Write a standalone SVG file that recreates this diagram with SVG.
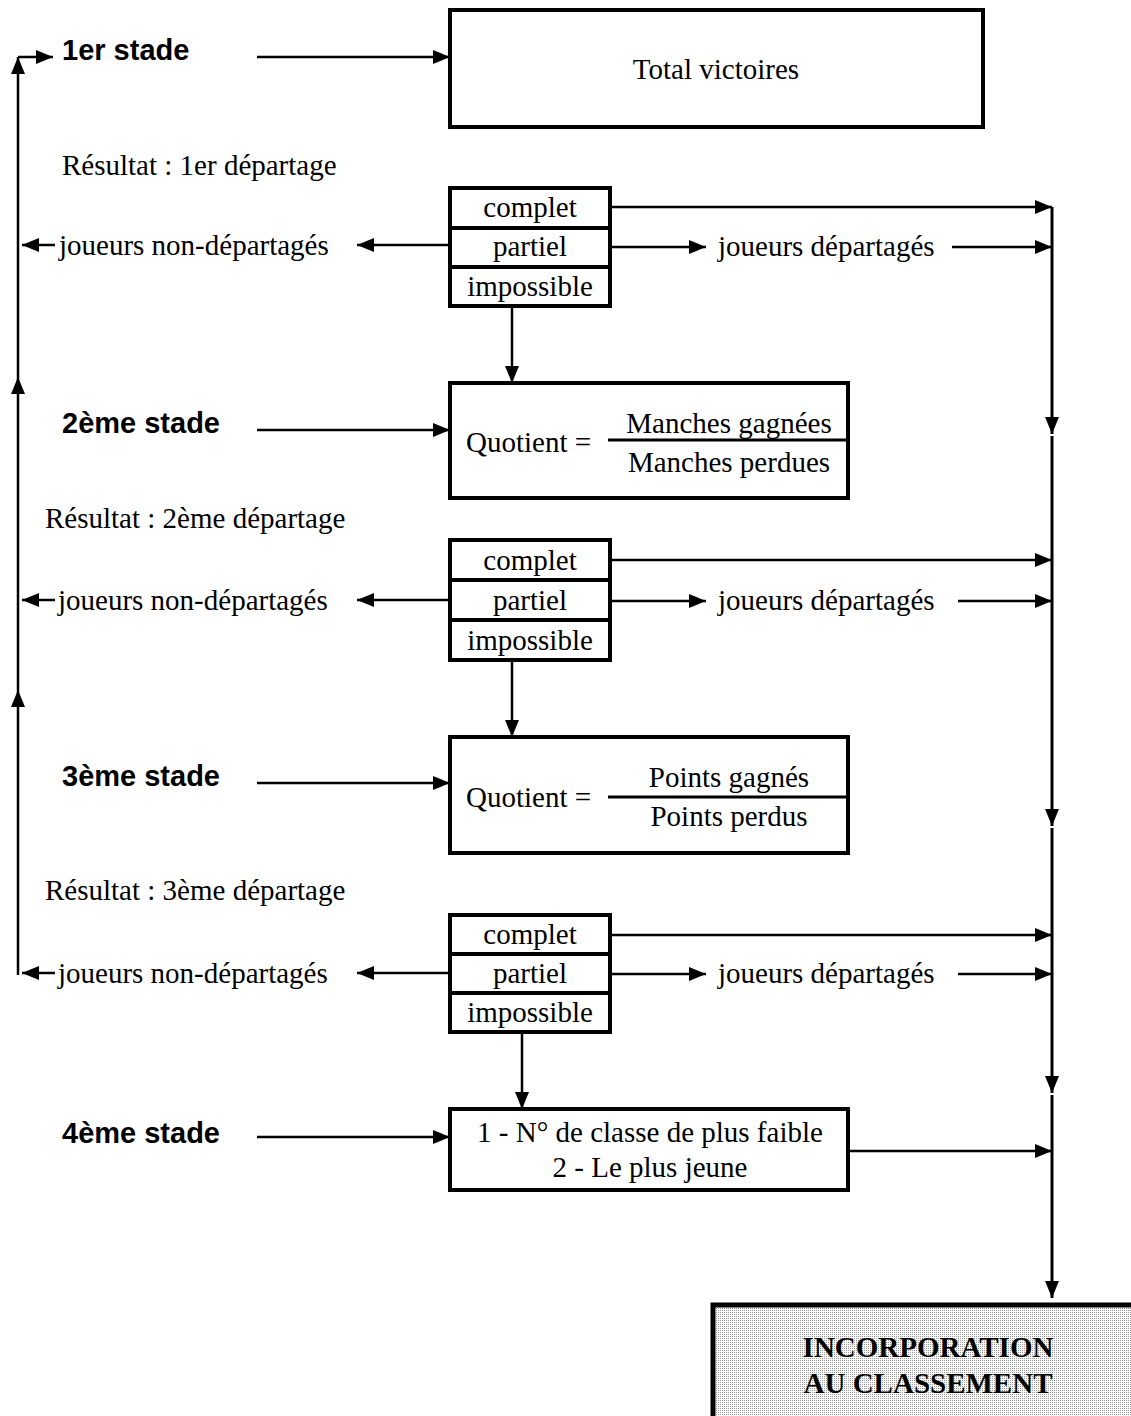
<svg xmlns="http://www.w3.org/2000/svg" width="1131" height="1416" viewBox="0 0 1131 1416">
<defs>
<marker id="ah" markerUnits="userSpaceOnUse" markerWidth="18" markerHeight="16" refX="17" refY="7" orient="auto">
<path d="M0,0 L17,7 L0,14 z" fill="#000"/>
</marker>
<pattern id="dots" width="2" height="2" patternUnits="userSpaceOnUse">
<rect width="2" height="2" fill="#fff"/>
<rect width="1" height="1" fill="#999"/>
</pattern>
</defs>
<style>
.box{fill:#fff;stroke:#000;stroke-width:4}
.ln{fill:none;stroke:#000;stroke-width:2.5}
.ar{fill:none;stroke:#000;stroke-width:2.5;marker-end:url(#ah)}
.t{font-family:"Liberation Serif","Times New Roman",serif;font-size:29px;fill:#000}
.c{text-anchor:middle}
.st{font-family:"Liberation Sans",Arial,sans-serif;font-size:29px;font-weight:bold;fill:#000}
.fin{font-family:"Liberation Serif","Times New Roman",serif;font-size:29px;font-weight:bold;text-anchor:middle;fill:#000}
</style>
<rect width="1131" height="1416" fill="#fff"/>

<g id="connectors">
<!-- left feedback line -->
<path class="ar" d="M18,975 L18,690"/>
<path class="ar" d="M18,690 L18,377"/>
<path class="ar" d="M18,377 L18,57"/>
<path class="ar" d="M18,57 L53,57"/>
<!-- stage arrows -->
<path class="ar" d="M257,57 L450,57"/>
<path class="ar" d="M257,430 L450,430"/>
<path class="ar" d="M257,783 L450,783"/>
<path class="ar" d="M257,1137 L450,1137"/>
<!-- group 1 -->
<path class="ar" d="M610,207 L1052,207"/>
<path class="ar" d="M610,247 L706,247"/>
<path class="ar" d="M952,247 L1052,247"/>
<path class="ar" d="M450,245 L357,245"/>
<path class="ar" d="M55,245 L22,245"/>
<path class="ar" d="M512,306 L512,383"/>
<!-- group 2 -->
<path class="ar" d="M610,560 L1052,560"/>
<path class="ar" d="M610,601 L706,601"/>
<path class="ar" d="M958,601 L1052,601"/>
<path class="ar" d="M450,600 L357,600"/>
<path class="ar" d="M55,600 L22,600"/>
<path class="ar" d="M512,660 L512,737"/>
<!-- group 3 -->
<path class="ar" d="M610,935 L1052,935"/>
<path class="ar" d="M610,974 L706,974"/>
<path class="ar" d="M958,974 L1052,974"/>
<path class="ar" d="M450,973 L357,973"/>
<path class="ar" d="M55,973 L22,973"/>
<path class="ar" d="M522,1032 L522,1109"/>
<!-- 4th box out -->
<path class="ar" d="M848,1151 L1052,1151"/>
<!-- right collector line -->
<path class="ar" style="stroke-width:3" d="M1052,207 L1052,434"/>
<path class="ar" style="stroke-width:3" d="M1052,436 L1052,826"/>
<path class="ar" style="stroke-width:3" d="M1052,828 L1052,1093"/>
<path class="ar" style="stroke-width:3" d="M1052,1095 L1052,1298"/>
</g>

<g id="stage-labels">
<text class="st" x="62" y="60">1er stade</text>
<text class="st" x="62" y="433">2ème stade</text>
<text class="st" x="62" y="786">3ème stade</text>
<text class="st" x="62" y="1143">4ème stade</text>
</g>

<g id="result-labels">
<text class="t" x="62" y="175">Résultat : 1er départage</text>
<text class="t" x="45" y="528">Résultat : 2ème départage</text>
<text class="t" x="45" y="900">Résultat : 3ème départage</text>
<text class="t" x="59" y="255">joueurs non-départagés</text>
<text class="t" x="58" y="610">joueurs non-départagés</text>
<text class="t" x="58" y="983">joueurs non-départagés</text>
<text class="t" x="718" y="256">joueurs départagés</text>
<text class="t" x="718" y="610">joueurs départagés</text>
<text class="t" x="718" y="983">joueurs départagés</text>
</g>

<g id="total-victoires">
<rect class="box" x="450" y="10" width="533" height="117"/>
<text class="t c" x="716" y="79">Total victoires</text>
</g>

<g id="result1">
<rect class="box" x="450" y="188" width="160" height="40"/>
<rect class="box" x="450" y="228" width="160" height="39"/>
<rect class="box" x="450" y="267" width="160" height="39"/>
<text class="t c" x="530" y="217">complet</text>
<text class="t c" x="530" y="256">partiel</text>
<text class="t c" x="530" y="296">impossible</text>
</g>

<g id="quotient-manches">
<rect class="box" x="450" y="383" width="398" height="115"/>
<text class="t" x="466" y="452">Quotient =</text>
<line class="ln" style="stroke-width:3" x1="608" y1="440" x2="848" y2="440"/>
<text class="t c" x="729" y="433">Manches gagnées</text>
<text class="t c" x="729" y="472">Manches perdues</text>
</g>

<g id="result2">
<rect class="box" x="450" y="540" width="160" height="40"/>
<rect class="box" x="450" y="580" width="160" height="40"/>
<rect class="box" x="450" y="620" width="160" height="40"/>
<text class="t c" x="530" y="570">complet</text>
<text class="t c" x="530" y="610">partiel</text>
<text class="t c" x="530" y="650">impossible</text>
</g>

<g id="quotient-points">
<rect class="box" x="450" y="737" width="398" height="116"/>
<text class="t" x="466" y="807">Quotient =</text>
<line class="ln" style="stroke-width:3" x1="608" y1="797" x2="848" y2="797"/>
<text class="t c" x="729" y="787">Points gagnés</text>
<text class="t c" x="729" y="826">Points perdus</text>
</g>

<g id="result3">
<rect class="box" x="450" y="915" width="160" height="39"/>
<rect class="box" x="450" y="954" width="160" height="39"/>
<rect class="box" x="450" y="993" width="160" height="39"/>
<text class="t c" x="530" y="944">complet</text>
<text class="t c" x="530" y="983">partiel</text>
<text class="t c" x="530" y="1022">impossible</text>
</g>

<g id="stage4">
<rect class="box" x="450" y="1109" width="398" height="81"/>
<text class="t c" x="650" y="1142">1 - N° de classe de plus faible</text>
<text class="t c" x="650" y="1177">2 - Le plus jeune</text>
</g>

<g id="incorporation">
<rect x="713" y="1305" width="440" height="130" fill="url(#dots)" stroke="#000" stroke-width="5"/>
<text class="fin" x="928" y="1357">INCORPORATION</text>
<text class="fin" x="928" y="1393">AU CLASSEMENT</text>
</g>
</svg>
